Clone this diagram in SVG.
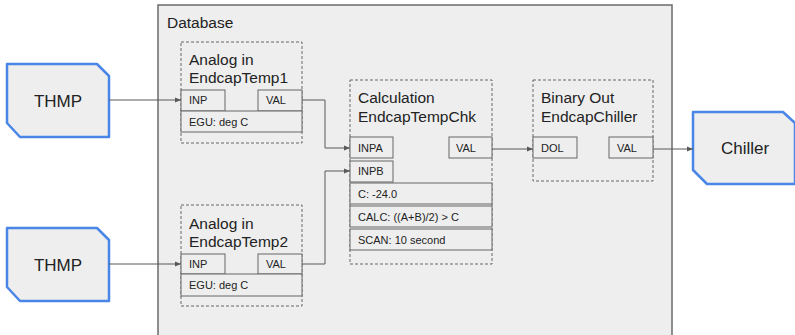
<svg xmlns="http://www.w3.org/2000/svg" width="795" height="335" viewBox="0 0 795 335">
  <defs>
    <marker id="arrow" viewBox="0 0 6 6" refX="6" refY="3" markerWidth="6" markerHeight="6" orient="auto" markerUnits="userSpaceOnUse">
      <path d="M0,0.5 L6,3 L0,5.5 Z" fill="#595959"/>
    </marker>
    <style>
      text { font-family: "Liberation Sans", Arial, sans-serif; fill: #222222; }
      .db { fill: #eeeeee; stroke: #6b6b6b; stroke-width: 1.5; }
      .io { fill: #eeeeee; stroke: #4a86e8; stroke-width: 2.5; stroke-linejoin: round; }
      .rec { fill: none; stroke: #666666; stroke-width: 1; stroke-dasharray: 3 2; }
      .fld { fill: #eeeeee; stroke: #666666; stroke-width: 1; }
      .io-t { font-size: 17px; text-anchor: middle; }
      .title { font-size: 15.5px; }
      .ft { font-size: 11px; }
      .conn { fill: none; stroke: #595959; stroke-width: 1; marker-end: url(#arrow); }
    </style>
  </defs>

  <!-- database container -->
  <g id="database">
    <rect class="db" x="158" y="5" width="514" height="340"/>
    <text x="167" y="28" font-size="15.5">Database</text>
  </g>

  <!-- external sources / sink -->
  <g id="thmp1">
    <path class="io" d="M7,64 H97 L109,76 V137 H20 L7,123 Z"/>
    <text class="io-t" x="58" y="107">THMP</text>
  </g>
  <g id="thmp2">
    <path class="io" d="M7,228 H97 L109,240 V301 H20 L7,287 Z"/>
    <text class="io-t" x="58" y="271">THMP</text>
  </g>
  <g id="chiller">
    <path class="io" d="M693,112 H783 L795,123 V184 H707 L693,170 Z"/>
    <text class="io-t" x="745" y="154">Chiller</text>
  </g>

  <!-- analog input record 1 -->
  <g id="ai1">
    <rect class="rec" x="181" y="42" width="121" height="101"/>
    <text class="title" x="189" y="65">Analog in</text>
    <text class="title" x="189" y="83">EndcapTemp1</text>
    <rect class="fld" x="181" y="90" width="44" height="21"/>
    <text class="ft" x="189" y="104">INP</text>
    <rect class="fld" x="258" y="90" width="44" height="21"/>
    <text class="ft" x="266" y="104">VAL</text>
    <rect class="fld" x="181" y="111" width="121" height="21"/>
    <text class="ft" x="189" y="126">EGU: deg C</text>
  </g>

  <!-- analog input record 2 -->
  <g id="ai2">
    <rect class="rec" x="181" y="205" width="121" height="101"/>
    <text class="title" x="189" y="229">Analog in</text>
    <text class="title" x="189" y="247">EndcapTemp2</text>
    <rect class="fld" x="181" y="254" width="44" height="20"/>
    <text class="ft" x="189" y="268">INP</text>
    <rect class="fld" x="258" y="254" width="44" height="20"/>
    <text class="ft" x="266" y="268">VAL</text>
    <rect class="fld" x="181" y="274" width="121" height="22"/>
    <text class="ft" x="189" y="289">EGU: deg C</text>
  </g>

  <!-- calculation record -->
  <g id="calc">
    <rect class="rec" x="350" y="80" width="142" height="184"/>
    <text class="title" x="358" y="103">Calculation</text>
    <text class="title" x="358" y="122">EndcapTempChk</text>
    <rect class="fld" x="350" y="137" width="43" height="21"/>
    <text class="ft" x="358" y="152">INPA</text>
    <rect class="fld" x="449" y="137" width="43" height="21"/>
    <text class="ft" x="456" y="152">VAL</text>
    <rect class="fld" x="350" y="161" width="43" height="21"/>
    <text class="ft" x="358" y="175">INPB</text>
    <rect class="fld" x="350" y="183" width="142" height="21"/>
    <text class="ft" x="358" y="198">C: -24.0</text>
    <rect class="fld" x="350" y="206" width="142" height="21"/>
    <text class="ft" x="358" y="221">CALC: ((A+B)/2) &gt; C</text>
    <rect class="fld" x="350" y="229" width="142" height="21"/>
    <text class="ft" x="358" y="244">SCAN: 10 second</text>
  </g>

  <!-- binary output record -->
  <g id="bo">
    <rect class="rec" x="533" y="80" width="120" height="101"/>
    <text class="title" x="541" y="103">Binary Out</text>
    <text class="title" x="541" y="122">EndcapChiller</text>
    <rect class="fld" x="533" y="137" width="44" height="21"/>
    <text class="ft" x="541" y="152">DOL</text>
    <rect class="fld" x="609" y="137" width="44" height="21"/>
    <text class="ft" x="617" y="152">VAL</text>
  </g>

  <!-- links between records -->
  <g id="connectors">
    <path class="conn" d="M109,100 H181"/>
    <path class="conn" d="M109,264 H181"/>
    <path class="conn" d="M302,100 H325 V148 H350"/>
    <path class="conn" d="M302,264 H325 V171 H350"/>
    <path class="conn" d="M492,149 H533"/>
    <path class="conn" d="M653,149 H693"/>
  </g>
</svg>
